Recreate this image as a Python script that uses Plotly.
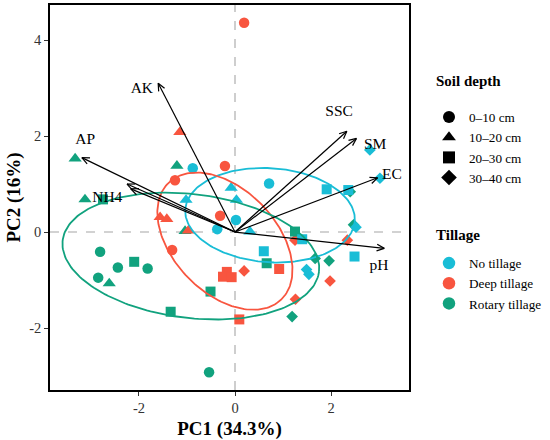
import numpy as np
import plotly.graph_objects as go

# ---------------- data ----------------
depths = ["0–10 cm", "10–20 cm", "20–30 cm", "30–40 cm"]
depth_symbols = ["circle", "triangle-up", "square", "diamond"]
depth_sizes = [10.5, 11.5, 10, 9]
tillages = ["No tillage", "Deep tillage", "Rotary tillage"]
tillage_colors = ["#19BDD6", "#F8553F", "#11A27E"]

# PC scores: one list per soil depth
no_till_pc1 = [[-0.88, 0.71, 0.02, -0.37],
               [-0.08, 0.03, -1.02, 0.31],
               [1.91, 2.36, 1.40, 0.60, 2.49],
               [2.81, 3.02, 2.52, 1.49, 1.54]]
no_till_pc2 = [[1.33, 1.01, 0.25, 0.06],
               [0.92, 0.67, 0.67, 0.01],
               [0.89, 0.875, -0.15, -0.40, -0.51],
               [1.71, 1.12, 0.10, -0.78, -0.88]]

deep_till_pc1 = [[0.19, -1.25, -0.21, -0.31, -1.31],
                 [-1.15, -1.56, -1.42, -0.97],
                 [-0.17, -0.25, -0.07, 0.92, 0.09],
                 [0.19, 1.26, 1.98, 2.34, 1.25]]
deep_till_pc2 = [[4.36, 1.08, 1.375, 0.34, -0.375],
                 [2.08, 0.31, 0.27, 0.03],
                 [-0.83, -0.93, -0.94, -0.77, -1.82],
                 [-0.81, -1.40, -1.02, -0.17, -0.17]]

rot_till_pc1 = [[-2.81, -2.44, -1.82, -2.85, -0.54],
                [-3.33, -1.21, -3.125, -1.04, -2.62],
                [-2.75, -2.10, -1.34, -0.51, 0.66, 1.25],
                [1.19, 1.67, 1.96, 2.40, 2.47]]
rot_till_pc2 = [[-0.41, -0.74, -0.76, -0.95, -2.92],
                [1.53, 1.38, 0.68, 0.02, -1.07],
                [0.68, -0.62, -1.66, -1.24, -0.65, 0.01],
                [-1.76, -0.55, -0.60, 0.84, 0.15]]

# variable loadings (arrow tips) and label positions
var_names = ["AK", "AP", "NH4", "", "SSC", "SM", "EC", "pH"]
load_pc1 = [-1.60, -3.19, -2.25, -2.17, 2.33, 2.53, 2.97, 3.11]
load_pc2 = [3.10, 1.55, 1.00, 0.90, 2.10, 1.95, 1.13, -0.34]
label_pc1 = [-1.94, -3.12, -2.66, -2.66, 2.17, 2.92, 3.27, 3.00]
label_pc2 = [2.97, 1.92, 0.70, 0.70, 2.50, 1.81, 1.19, -0.71]

# confidence ellipses per tillage: centre, semi-axes, rotation (deg)
ell_cx = [0.73, -0.21, -0.92]
ell_cy = [0.35, -0.19, -0.50]
ell_a = [1.77, 1.69, 2.69]
ell_b = [0.98, 1.08, 1.29]
ell_angle = [-4, -46, -7]

x_range = [-3.854, 3.625]
y_range = [-3.29, 4.729]
x_ticks = [-2, 0, 2]
x_tick_labels = ["-2", "0", "2"]
y_ticks = [-2, 0, 2, 4]
y_tick_labels = ["-2", "0", "2", "4"]

# ---------------- figure ----------------
FONT = "Liberation Serif, Times New Roman, serif"
fig = go.Figure()

scores_x = [no_till_pc1, deep_till_pc1, rot_till_pc1]
scores_y = [no_till_pc2, deep_till_pc2, rot_till_pc2]

draw_order_depth = [0, 1, 3, 2]
draw_order_till = [2, 1, 0]
for d in draw_order_depth:
    for t in draw_order_till:
        fig.add_trace(go.Scatter(
            x=scores_x[t][d], y=scores_y[t][d], mode="markers",
            marker=dict(symbol=depth_symbols[d], size=depth_sizes[d],
                        color=tillage_colors[t], line=dict(width=0)),
            showlegend=False, hoverinfo="skip"))

# ellipses
theta = np.linspace(0, 2 * np.pi, 200)
for t in range(3):
    ang = np.deg2rad(ell_angle[t])
    ex = ell_a[t] * np.cos(theta)
    ey = ell_b[t] * np.sin(theta)
    xs = ell_cx[t] + ex * np.cos(ang) - ey * np.sin(ang)
    ys = ell_cy[t] + ex * np.sin(ang) + ey * np.cos(ang)
    fig.add_trace(go.Scatter(x=xs, y=ys, mode="lines",
                             line=dict(color=tillage_colors[t], width=1.8),
                             showlegend=False, hoverinfo="skip"))

# arrows (shafts + open heads computed from loadings)
shaft_x, shaft_y, head_x, head_y = [], [], [], []
head_len = 0.17
head_ang = np.deg2rad(24)
for lx, ly in zip(load_pc1, load_pc2):
    shaft_x += [0, lx, None]
    shaft_y += [0, ly, None]
    phi = np.arctan2(ly, lx)
    for s in (1, -1):
        head_x += [lx - head_len * np.cos(phi + s * head_ang), lx, None]
        head_y += [ly - head_len * np.sin(phi + s * head_ang), ly, None]
fig.add_trace(go.Scatter(x=shaft_x, y=shaft_y, mode="lines",
                         line=dict(color="black", width=1.2),
                         showlegend=False, hoverinfo="skip"))
fig.add_trace(go.Scatter(x=head_x, y=head_y, mode="lines",
                         line=dict(color="black", width=1.2),
                         showlegend=False, hoverinfo="skip"))
fig.add_trace(go.Scatter(x=label_pc1, y=label_pc2, mode="text", text=var_names,
                         textfont=dict(family=FONT, size=15.5, color="black"),
                         showlegend=False, hoverinfo="skip"))

# legend entries
for d in range(4):
    fig.add_trace(go.Scatter(x=[None], y=[None], mode="markers", name=depths[d],
                             marker=dict(symbol=depth_symbols[d], size=12, color="black"),
                             legend="legend"))
for t in range(3):
    fig.add_trace(go.Scatter(x=[None], y=[None], mode="markers", name=tillages[t],
                             marker=dict(symbol="circle", size=12.5, color=tillage_colors[t]),
                             legend="legend2"))

W, H = 550, 440
fig.update_layout(
    width=W, height=H,
    margin=dict(l=50, r=141, t=5, b=50),
    paper_bgcolor="white", plot_bgcolor="white",
    font=dict(family=FONT, color="black"),
    xaxis=dict(range=x_range, tickvals=x_ticks, ticktext=x_tick_labels,
               ticks="outside", ticklen=4,
               tickcolor="#333333", tickwidth=1, automargin=False,
               showline=True, linecolor="black", linewidth=1.6, mirror=True,
               showgrid=False, zeroline=False,
               tickfont=dict(family=FONT, size=14.5, color="#333333"),
               title=dict(text="<b>PC1 (34.3%)</b>", font=dict(family=FONT, size=19),
                          standoff=6)),
    yaxis=dict(range=y_range, tickvals=y_ticks, ticktext=y_tick_labels,
               ticks="outside", ticklen=4,
               tickcolor="#333333", tickwidth=1, automargin=False,
               showline=True, linecolor="black", linewidth=1.6, mirror=True,
               showgrid=False, zeroline=False,
               tickfont=dict(family=FONT, size=14.5, color="#333333"),
               title=dict(text="<b>PC2 (16%)</b>", font=dict(family=FONT, size=19),
                          standoff=4)),
    shapes=[
        dict(type="line", xref="x", yref="paper", x0=0, x1=0, y0=0, y1=1,
             line=dict(color="#A6A6A6", width=1.1, dash="dash"), layer="below"),
        dict(type="line", xref="paper", yref="y", x0=0, x1=1, y0=0, y1=0,
             line=dict(color="#A6A6A6", width=1.1, dash="dash"), layer="below"),
    ],
    annotations=[
        dict(text="<b>Soil depth</b>", xref="paper", yref="paper", x=1.07, y=0.8026,
             xanchor="left", yanchor="middle", showarrow=False,
             font=dict(family=FONT, size=15, color="black")),
        dict(text="<b>Tillage</b>", xref="paper", yref="paper", x=1.07, y=0.4026,
             xanchor="left", yanchor="middle", showarrow=False,
             font=dict(family=FONT, size=15, color="black")),
    ],
    legend=dict(font=dict(family=FONT, size=13.2), xref="container", yref="container",
                x=429 / W, xanchor="left", y=1 - 102 / H, yanchor="top",
                bgcolor="rgba(0,0,0,0)", itemsizing="trace"),
    legend2=dict(font=dict(family=FONT, size=13.2), xref="container", yref="container",
                 x=429 / W, xanchor="left", y=1 - 248 / H, yanchor="top",
                 bgcolor="rgba(0,0,0,0)", itemsizing="trace"),
)

fig.write_html("out.html", config={"displayModeBar": False},
               post_script="document.body.style.margin='0px';document.body.style.overflow='hidden';")
